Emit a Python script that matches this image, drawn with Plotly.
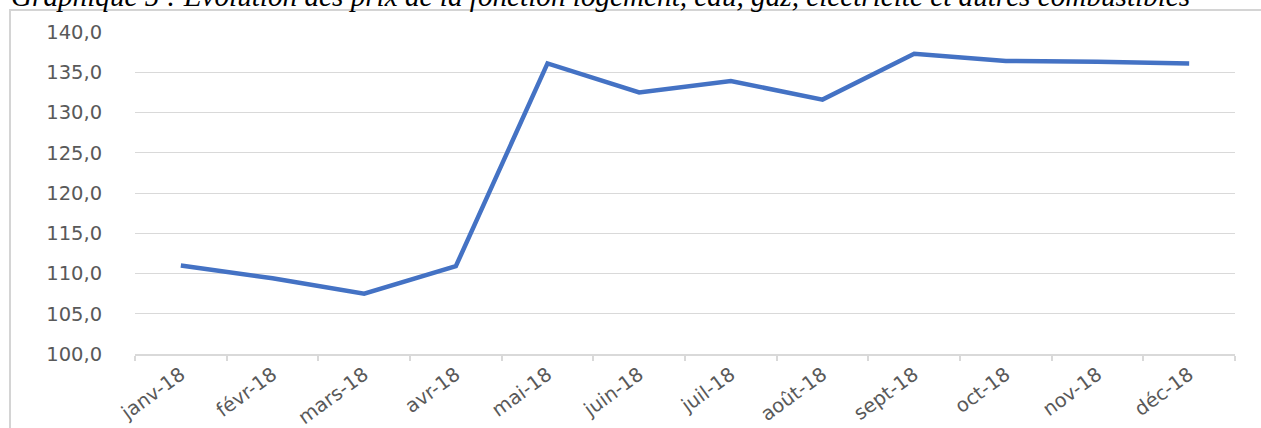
import plotly.graph_objects as go

months = ["janv-18", "févr-18", "mars-18", "avr-18", "mai-18", "juin-18",
          "juil-18", "août-18", "sept-18", "oct-18", "nov-18", "déc-18"]
prices = [111.0, 109.4, 107.5, 110.9, 136.1, 132.5,
          133.9, 131.6, 137.3, 136.4, 136.3, 136.1]
y_ticks = [100, 105, 110, 115, 120, 125, 130, 135, 140]
title_text = ("Graphique 5 : Evolution des prix de la fonction logement, eau, gaz, "
              "électricité et autres combustibles")

W, H = 1261, 428
L, T = 135, 32
R = W - 1235
B = H - 354
pw, ph = W - L - R, H - T - B

fig = go.Figure()
fig.add_trace(go.Scatter(
    x=months, y=prices, mode="lines",
    line=dict(color="#4472C4", width=4.5),
    showlegend=False, hoverinfo="skip",
))

x_font = dict(family="DejaVu Sans", size=19.5, color="#595959")
y_font = dict(family="DejaVu Sans", size=19.5, color="#595959")

fig.update_layout(
    width=W, height=H,
    margin=dict(l=L, r=R, t=T, b=B, pad=0, autoexpand=False),
    paper_bgcolor="white", plot_bgcolor="white",
    separators=", ",
    xaxis=dict(
        type="category", tickson="boundaries", range=[-0.5, 11.5],
        automargin=False,
        showgrid=False, zeroline=False,
        showline=True, linecolor="#d9d9d9", linewidth=1.5,
        ticks="outside", ticklen=5, tickcolor="#d9d9d9", tickwidth=1.5,
        tickangle=-36, tickfont=x_font,
    ),
    yaxis=dict(
        range=[100, 140], tickvals=y_ticks, tickformat=".1f",
        automargin=False,
        showgrid=True, gridcolor="#d9d9d9", gridwidth=1.2,
        zeroline=False, showline=False,
        ticks="outside", ticklen=28, tickcolor="rgba(0,0,0,0)",
        tickfont=y_font,
    ),
    shapes=[dict(
        type="rect", xref="paper", yref="paper", layer="below",
        x0=(10 - L) / pw, x1=(W + 40 - L) / pw,
        y0=-(H + 40 - (T + ph)) / ph, y1=1 + (T - 10) / ph,
        line=dict(color="#d4d4d4", width=2), fillcolor="rgba(0,0,0,0)",
    )],
    annotations=[dict(
        text=title_text, xref="paper", yref="paper",
        x=0, y=1, xanchor="left", yanchor="bottom",
        xshift=-L + 9, yshift=18, showarrow=False,
        font=dict(family="Liberation Serif", size=29.2, color="black",
                  style="italic"),
    )],
)

fig.write_html(
    "out.html",
    config={"displayModeBar": False},
    post_script="document.body.style.margin='0';document.body.style.overflow='hidden';",
)
